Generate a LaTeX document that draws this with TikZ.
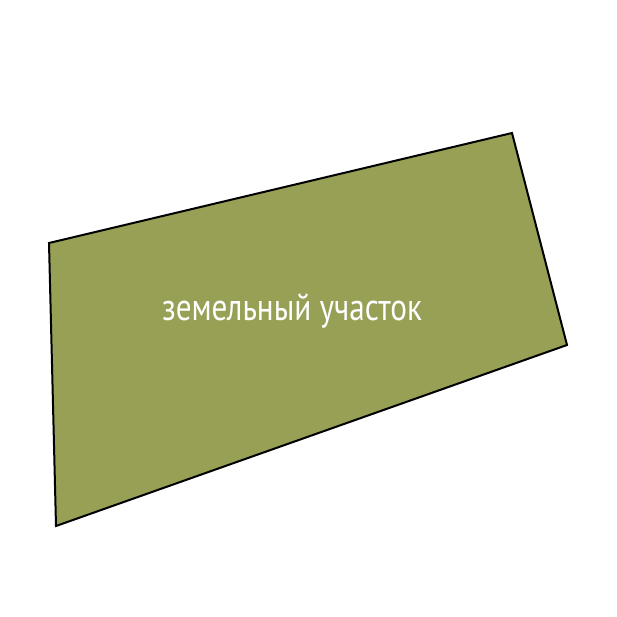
\documentclass[tikz,border=0pt]{standalone}
\usepackage{fontspec}
\newfontfamily\plotfont[FakeStretch=0.82]{PT Sans}
\definecolor{plotgreen}{RGB}{151,160,85}
\tikzset{every picture/.style={line width=2pt}}
\tikzset{plot/.style={draw=black, fill=plotgreen, line join=miter},
	plotlabel/.style={text=white, font=\plotfont\fontsize{38}{38}\selectfont, inner sep=0pt}}

\begin{document}
\begin{tikzpicture}[x=1pt,y=-1pt]
	\useasboundingbox (0,0) rectangle (617,617);
	% land plot outline
	\draw[plot] (49,243) -- (512,133) -- (567,345) -- (56,526) -- cycle;
	\node[plotlabel] (lbl) at (292,311) {земельный участок};
\end{tikzpicture}
\end{document}
